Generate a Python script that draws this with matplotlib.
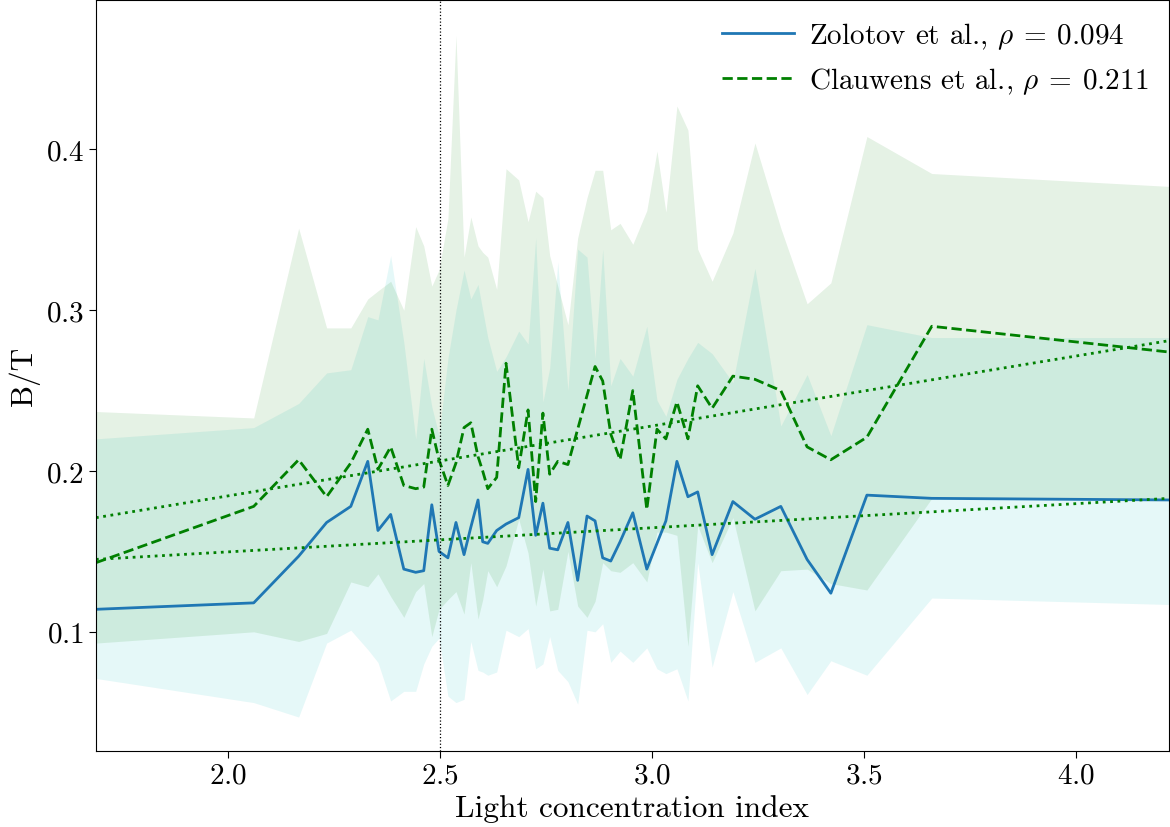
import matplotlib
matplotlib.use('Agg')
import matplotlib.pyplot as plt
import numpy as np

plt.rcParams['font.family'] = 'serif'
plt.rcParams['font.serif'] = ['cmr10']
plt.rcParams['mathtext.fontset'] = 'cm'
plt.rcParams['axes.formatter.use_mathtext'] = True
plt.rcParams['font.size'] = 21

# binned light concentration index
conc = np.array([1.689, 2.061, 2.167, 2.233, 2.290, 2.330, 2.354, 2.384, 2.415, 2.443,
                 2.462, 2.481, 2.498, 2.519, 2.538, 2.557, 2.573, 2.590, 2.601, 2.613,
                 2.634, 2.656, 2.686, 2.708, 2.726, 2.743, 2.759, 2.778, 2.802, 2.825,
                 2.847, 2.866, 2.884, 2.903, 2.925, 2.955, 2.988, 3.012, 3.033, 3.059,
                 3.085, 3.108, 3.142, 3.191, 3.243, 3.304, 3.366, 3.422, 3.507, 3.660,
                 4.219])

# Zolotov et al. B/T per bin
zol_bt = np.array([0.114, 0.118, 0.147, 0.168, 0.178, 0.206, 0.163, 0.173, 0.139, 0.137,
                   0.138, 0.179, 0.150, 0.146, 0.168, 0.148, 0.165, 0.182, 0.156, 0.155,
                   0.163, 0.167, 0.171, 0.201, 0.160, 0.180, 0.152, 0.151, 0.168, 0.132,
                   0.172, 0.169, 0.146, 0.144, 0.156, 0.174, 0.139, 0.155, 0.169, 0.206,
                   0.184, 0.187, 0.148, 0.181, 0.170, 0.178, 0.145, 0.124, 0.185, 0.183,
                   0.182])
zol_lo = np.array([0.071, 0.056, 0.047, 0.093, 0.101, 0.089, 0.081, 0.057, 0.063, 0.063,
                   0.080, 0.091, 0.096, 0.060, 0.056, 0.058, 0.094, 0.076, 0.075, 0.073,
                   0.075, 0.101, 0.097, 0.102, 0.077, 0.080, 0.097, 0.076, 0.069, 0.055,
                   0.101, 0.100, 0.105, 0.081, 0.088, 0.081, 0.090, 0.077, 0.074, 0.077,
                   0.057, 0.143, 0.078, 0.125, 0.081, 0.090, 0.061, 0.082, 0.073, 0.121,
                   0.117])
zol_hi = np.array([0.220, 0.227, 0.242, 0.261, 0.263, 0.296, 0.294, 0.334, 0.280, 0.220,
                   0.270, 0.240, 0.222, 0.270, 0.300, 0.325, 0.307, 0.316, 0.300, 0.283,
                   0.262, 0.271, 0.287, 0.279, 0.345, 0.243, 0.264, 0.330, 0.250, 0.338,
                   0.333, 0.270, 0.338, 0.253, 0.270, 0.259, 0.290, 0.244, 0.234, 0.257,
                   0.270, 0.280, 0.273, 0.255, 0.326, 0.228, 0.260, 0.222, 0.291, 0.283,
                   0.283])

# Clauwens et al. B/T per bin
cla_bt = np.array([0.143, 0.178, 0.207, 0.184, 0.205, 0.226, 0.201, 0.215, 0.191, 0.189,
                   0.190, 0.226, 0.207, 0.191, 0.205, 0.227, 0.230, 0.209, 0.200, 0.189,
                   0.196, 0.267, 0.202, 0.238, 0.181, 0.236, 0.198, 0.206, 0.204, 0.226,
                   0.247, 0.265, 0.256, 0.223, 0.207, 0.250, 0.176, 0.226, 0.220, 0.243,
                   0.220, 0.253, 0.239, 0.259, 0.257, 0.250, 0.215, 0.207, 0.221, 0.290,
                   0.274])
cla_lo = np.array([0.093, 0.100, 0.094, 0.099, 0.131, 0.128, 0.136, 0.122, 0.109, 0.125,
                   0.130, 0.097, 0.114, 0.120, 0.125, 0.111, 0.143, 0.108, 0.120, 0.138,
                   0.128, 0.141, 0.170, 0.149, 0.116, 0.139, 0.113, 0.114, 0.150, 0.116,
                   0.109, 0.119, 0.143, 0.138, 0.137, 0.143, 0.131, 0.162, 0.162, 0.160,
                   0.091, 0.166, 0.143, 0.171, 0.113, 0.138, 0.139, 0.130, 0.126, 0.183,
                   0.183])
cla_hi = np.array([0.237, 0.233, 0.351, 0.289, 0.289, 0.307, 0.312, 0.318, 0.300, 0.352,
                   0.340, 0.315, 0.325, 0.357, 0.471, 0.333, 0.358, 0.340, 0.336, 0.333,
                   0.313, 0.388, 0.381, 0.355, 0.374, 0.370, 0.334, 0.315, 0.291, 0.345,
                   0.370, 0.387, 0.387, 0.350, 0.354, 0.341, 0.362, 0.399, 0.361, 0.427,
                   0.412, 0.338, 0.318, 0.348, 0.404, 0.351, 0.304, 0.317, 0.408, 0.385,
                   0.377])

# linear trends (slope, intercept)
zol_fit = [0.0150, 0.1197]
cla_fit = [0.0435, 0.0975]
zol_rho = 0.094
cla_rho = 0.211
split = 2.5

fig = plt.figure(figsize=(11.7, 8.28), dpi=100)
ax = fig.add_axes([0.082, 0.092, 0.917, 0.907])

ax.fill_between(conc, zol_lo, zol_hi, color='c', alpha=0.1, linewidth=0)
ax.fill_between(conc, cla_lo, cla_hi, color='green', alpha=0.1, linewidth=0)

ax.plot(conc, zol_bt, color='tab:blue', lw=2,
        label=r'Zolotov et al., $\rho\:=\:%.3f$' % zol_rho)
ax.plot(conc, cla_bt, color='green', ls='--', lw=2,
        label=r'Clauwens et al., $\rho\:=\:%.3f$' % cla_rho)

ax.plot(conc, np.polyval(zol_fit, conc), color='green', ls=':', lw=2)
ax.plot(conc, np.polyval(cla_fit, conc), color='green', ls=':', lw=2)

ax.axvline(split, color='black', ls=':', lw=0.9)

ax.set_xlim(conc[0], conc[-1])
ax.set_ylim(0.026, 0.493)
ax.set_xticks([2.0, 2.5, 3.0, 3.5, 4.0])
ax.set_yticks([0.1, 0.2, 0.3, 0.4])
ax.tick_params(labelsize=21, length=5)
ax.set_xlabel('Light concentration index', fontsize=22.5, labelpad=4)
ax.set_ylabel('B/T', fontsize=22.5, labelpad=4)
ax.legend(loc='upper right', frameon=False, fontsize=21,
          handlelength=2.5, handletextpad=0.5, borderaxespad=0.3)

fig.savefig('out.png', dpi=100)
